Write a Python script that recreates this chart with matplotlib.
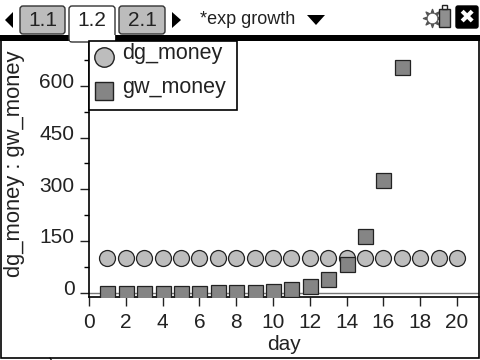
import matplotlib
matplotlib.use('Agg')
import matplotlib.pyplot as plt
from matplotlib.patches import FancyBboxPatch, Polygon, Rectangle
from matplotlib.transforms import ScaledTranslation

plt.rcParams['font.family'] = ['Liberation Sans', 'DejaVu Sans']

day = [1, 2, 3, 4, 5, 6, 7, 8, 9, 10, 11, 12, 13, 14, 15, 16, 17, 18, 19, 20]
dg_money = [100] * 20
gw_days = [1, 2, 3, 4, 5, 6, 7, 8, 9, 10, 11, 12, 13, 14, 15, 16, 17]
gw_money = [0.01, 0.02, 0.04, 0.08, 0.16, 0.32, 0.64, 1.28, 2.56, 5.12, 10.24,
            20.48, 40.96, 81.92, 163.84, 327.68, 655.36]
x_ticks = [0, 2, 4, 6, 8, 10, 12, 14, 16, 18, 20]
y_ticks = [0, 150, 300, 450, 600]
y_minor = [75, 225, 375, 525, 675]
tabs = ['1.1', '1.2', '2.1']

W, H = 480, 360
fig = plt.figure(figsize=(4.8, 3.6), dpi=100, facecolor='white')

# plot area, placed in pixels of the screenshot
left, right, top, bottom = 89, 479, 40, 297.3
ax = fig.add_axes([left / W, 1 - bottom / H, (right - left) / W, (bottom - top) / H])
ax.set_xlim(0, 21.2)
ax.set_ylim(-13.4, 733)
for s in ['top', 'right']:
    ax.spines[s].set_visible(False)
for s in ['left', 'bottom']:
    ax.spines[s].set_linewidth(1.2)

ax.axhline(0, color='#777777', lw=1, zorder=1)
ax.plot(day, dg_money, ls='none', marker='o', ms=11.5, mfc='#bdbdbd', mec='#222222', mew=0.9, zorder=3)
ax.plot(gw_days, gw_money, ls='none', marker='s', ms=10.8, mfc='#858585', mec='#222222', mew=0.9, zorder=4)

ax.set_xticks(x_ticks)
ax.set_yticks(y_ticks)
ax.set_yticks(y_minor, minor=True)
ax.tick_params(axis='both', which='major', length=6.5, width=1, labelsize=15, colors='#222222')
ax.tick_params(axis='x', which='major', pad=5)
ax.tick_params(axis='y', which='major', pad=4)
ax.tick_params(axis='y', which='minor', length=3.5, width=1)
ax.set_xlabel('day', fontsize=15, labelpad=2, color='#222222')
ax.set_ylabel('dg_money : gw_money', fontsize=15.8, color='#222222')
ax.yaxis.set_label_coords(-64 / (right - left), 0.518)

# y tick labels sit a little above their ticks on this screen
raise_up = ScaledTranslation(0, 5 / 100, fig.dpi_scale_trans)
for lab in ax.get_yticklabels():
    lab.set_transform(lab.get_transform() + raise_up)

# calculator screen chrome, in pixels
ov = fig.add_axes([0, 0, 1, 1], zorder=10)
ov.set_xlim(0, W)
ov.set_ylim(H, 0)
ov.axis('off')

ov.add_patch(Rectangle((0, 35), 480, 5.5, fc='black', ec='none'))
ov.add_patch(Rectangle((1, 40), 477.5, 318, fc='none', ec='black', lw=1.2))
ov.plot([50, 52], [358, 361], color='black', lw=0.8)

tab_x = [20, 69, 119]
tab_w = [45, 46, 46]
for name, x, w in zip(tabs, tab_x, tab_w):
    active = name == '1.2'
    bot = 42 if active else 34
    ov.add_patch(FancyBboxPatch((x, 6), w, bot - 6, boxstyle='round,pad=0,rounding_size=3',
                                fc='white' if active else '#bcbcbc', ec='#333333', lw=1, zorder=3 if active else 2))
    ov.text(x + w / 2, 21, name, fontsize=15, ha='center', va='center', color='#222222', zorder=5)
ov.add_patch(Rectangle((70, 35), 45, 6, fc='white', ec='none', zorder=4))

ov.add_patch(Polygon([[5, 20], [13, 12], [13, 28]], fc='black', ec='none'))
ov.add_patch(Polygon([[172, 12], [172, 28], [181, 20]], fc='black', ec='none'))
ov.text(200, 20, '*exp growth', fontsize=13, ha='left', va='center', color='#222222')
ov.add_patch(Polygon([[307, 15], [325, 15], [316, 25]], fc='black', ec='none'))

# settings and close icons
ov.scatter([432], [18], s=170, marker=(8, 1, 0), c='#555555', zorder=3)
ov.scatter([432], [18], s=35, marker='o', c='white', zorder=3)
ov.add_patch(Rectangle((439, 9), 11, 18, fc='#8f8f8f', ec='#222222', lw=1, zorder=4))
ov.add_patch(Rectangle((442, 5), 5, 4, fc='white', ec='#222222', lw=1, zorder=4))
ov.add_patch(FancyBboxPatch((456, 6), 22, 22, boxstyle='round,pad=0,rounding_size=2', fc='black', ec='black'))
ov.text(467, 17, '✖', fontsize=14, ha='center', va='center', color='white', family='DejaVu Sans')

# legend box
ov.add_patch(Rectangle((89, 41), 148, 69, fc='white', ec='black', lw=1.2, zorder=5))
ov.plot([104], [56.5], marker='o', ms=14, mfc='#bdbdbd', mec='#222222', mew=1, zorder=6)
ov.plot([104], [90.5], marker='s', ms=13.5, mfc='#858585', mec='#222222', mew=1, zorder=6)
ov.text(122, 53.5, 'dg_money', fontsize=15.5, ha='left', va='center', color='#222222', zorder=6)
ov.text(122, 87.5, 'gw_money', fontsize=15.5, ha='left', va='center', color='#222222', zorder=6)

fig.savefig('out.png', dpi=100)
